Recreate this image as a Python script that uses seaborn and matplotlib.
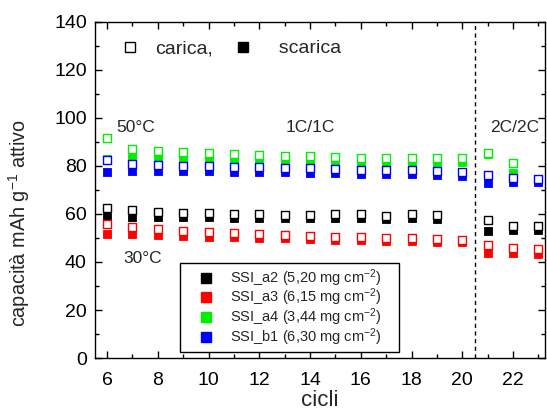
import numpy as np
import pandas as pd
import matplotlib
matplotlib.use("Agg")
import matplotlib.pyplot as plt
from matplotlib.lines import Line2D
from matplotlib.ticker import MultipleLocator
import seaborn as sns

# ---------------- data ----------------
cycles_a2 = [6, 7, 8, 9, 10, 11, 12, 13, 14, 15, 16, 17, 18, 19, 21, 22, 23]
a2_carica = [62.5, 61.7, 60.8, 60.5, 60.3, 60.0, 59.8, 59.6, 59.5, 59.8, 59.8, 59.2, 59.8, 59.5, 57.5, 55.0, 55.0]
a2_scarica = [59.0, 58.8, 58.8, 58.8, 58.6, 58.5, 58.3, 58.3, 58.2, 58.2, 58.2, 57.8, 58.2, 58.0, 53.0, 53.3, 53.3]

cycles_a3 = [6, 7, 8, 9, 10, 11, 12, 13, 14, 15, 16, 17, 18, 19, 20, 21, 22, 23]
a3_carica = [55.8, 54.6, 53.8, 53.0, 52.5, 52.0, 51.6, 51.2, 50.9, 50.5, 50.2, 49.8, 50.0, 49.5, 49.3, 47.0, 45.8, 45.4]
a3_scarica = [51.7, 51.5, 51.2, 50.8, 50.5, 50.2, 50.0, 49.8, 49.5, 49.2, 49.0, 48.7, 48.6, 48.3, 48.2, 43.8, 43.8, 43.4]

cycles_a4 = [6, 7, 8, 9, 10, 11, 12, 13, 14, 15, 16, 17, 18, 19, 20, 21, 22]
a4_carica = [91.7, 87.0, 86.2, 85.6, 85.2, 84.8, 84.6, 84.2, 84.0, 83.6, 83.5, 83.4, 83.3, 83.3, 83.5, 85.5, 81.2]
a4_scarica = [83.0, 83.3, 83.0, 82.8, 82.5, 82.3, 82.2, 82.0, 81.8, 81.7, 81.7, 81.6, 81.6, 81.6, 81.8, 84.8, 77.1]

cycles_b1 = [6, 7, 8, 9, 10, 11, 12, 13, 14, 15, 16, 17, 18, 19, 20, 21, 22, 23]
b1_carica = [82.5, 80.8, 80.3, 80.0, 79.8, 79.6, 79.4, 79.2, 79.0, 78.6, 78.5, 78.3, 78.3, 78.0, 77.6, 76.2, 75.0, 74.6]
b1_scarica = [77.3, 78.0, 78.0, 77.8, 77.7, 77.5, 77.4, 77.3, 77.2, 77.0, 76.8, 76.6, 76.5, 76.2, 75.6, 72.9, 73.3, 73.2]

labels = ["SSI_a2 (5,20 mg cm$^{-2}$)    ", "SSI_a3 (6,15 mg cm$^{-2}$)    ",
          "SSI_a4 (3,44 mg cm$^{-2}$)    ", "SSI_b1 (6,30 mg cm$^{-2}$)    "]
colors = ["#000000", "#ff0000", "#00ee00", "#0000ff"]

series = [
    (cycles_a2, a2_carica, a2_scarica),
    (cycles_a3, a3_carica, a3_scarica),
    (cycles_a4, a4_carica, a4_scarica),
    (cycles_b1, b1_carica, b1_scarica),
]

# ---------------- style ----------------
sns.set_theme(style="ticks")
plt.rcParams["font.family"] = ["Liberation Sans", "DejaVu Sans"]
plt.rcParams["mathtext.default"] = "regular"

fig = plt.figure(figsize=(5.47, 4.12), dpi=100)
ax = fig.add_axes([0.174, 0.131, 0.822, 0.816])

ms = 30
for (cyc, car, sca), col in zip(series, colors):
    sns.scatterplot(x=cyc, y=sca, marker="s", s=ms, color=col, edgecolor=col,
                    linewidth=0.6, ax=ax, legend=False, zorder=3)
    sns.scatterplot(x=cyc, y=car, marker="s", s=ms, facecolor="white", edgecolor=col,
                    linewidth=1.0, ax=ax, legend=False, zorder=3)

ax.axvline(20.5, color="black", linestyle=(0, (3, 2.5)), linewidth=1.0)

ax.set_xlim(5.53, 23.25)
ax.set_ylim(0, 140)
ax.xaxis.set_major_locator(MultipleLocator(2))
ax.xaxis.set_minor_locator(MultipleLocator(1))
ax.yaxis.set_major_locator(MultipleLocator(20))
ax.yaxis.set_minor_locator(MultipleLocator(10))
ax.tick_params(which="both", direction="in", top=True, right=True, width=1.0, colors="black")
ax.tick_params(which="major", length=5, labelsize=14)
ax.tick_params(axis="x", which="major", pad=10)
ax.tick_params(axis="y", which="major", pad=6)
ax.tick_params(which="minor", length=3)
for sp in ax.spines.values():
    sp.set_linewidth(1.0)
    sp.set_color("black")

ax.set_xlabel("cicli", fontsize=16, labelpad=1)
ax.set_ylabel("capacità mAh g$^{-1}$ attivo", fontsize=14.3)
ax.yaxis.set_label_coords(-0.14, 0.40)

ax.text(6.35, 96, "50°C", fontsize=12.5, va="center", ha="left")
ax.text(6.65, 41.5, "30°C", fontsize=12.5, va="center", ha="left")
ax.text(14.0, 96, "1C/1C", fontsize=12.5, va="center", ha="center")
ax.text(22.05, 96, "2C/2C", fontsize=12.5, va="center", ha="center")

# legend: carica / scarica
h_open = Line2D([], [], marker="s", linestyle="none", markersize=6.5,
                markerfacecolor="white", markeredgecolor="black", markeredgewidth=1.0)
h_fill = Line2D([], [], marker="s", linestyle="none", markersize=6.5,
                markerfacecolor="black", markeredgecolor="black")
leg1 = ax.legend([h_open, h_fill], ["carica,", "  scarica"], ncol=2, frameon=False,
                 loc="upper left", bbox_to_anchor=(0.042, 0.970), borderaxespad=0,
                 fontsize=14, handletextpad=0.89, columnspacing=1.18, handlelength=0.8)
ax.add_artist(leg1)

# legend: samples
handles = [Line2D([], [], marker="s", linestyle="none", markersize=6.5,
                  markerfacecolor=c, markeredgecolor=c) for c in colors]
leg2 = ax.legend(handles, labels, loc="lower left", bbox_to_anchor=(0.189, 0.018),
                 borderaxespad=0, fontsize=10.5, frameon=True, fancybox=False, framealpha=1,
                 handletextpad=0.15, handlelength=3.0, borderpad=0.28, labelspacing=-0.13)
leg2.get_frame().set_edgecolor("black")
leg2.get_frame().set_linewidth(1.0)

fig.savefig("out.png", dpi=100)
